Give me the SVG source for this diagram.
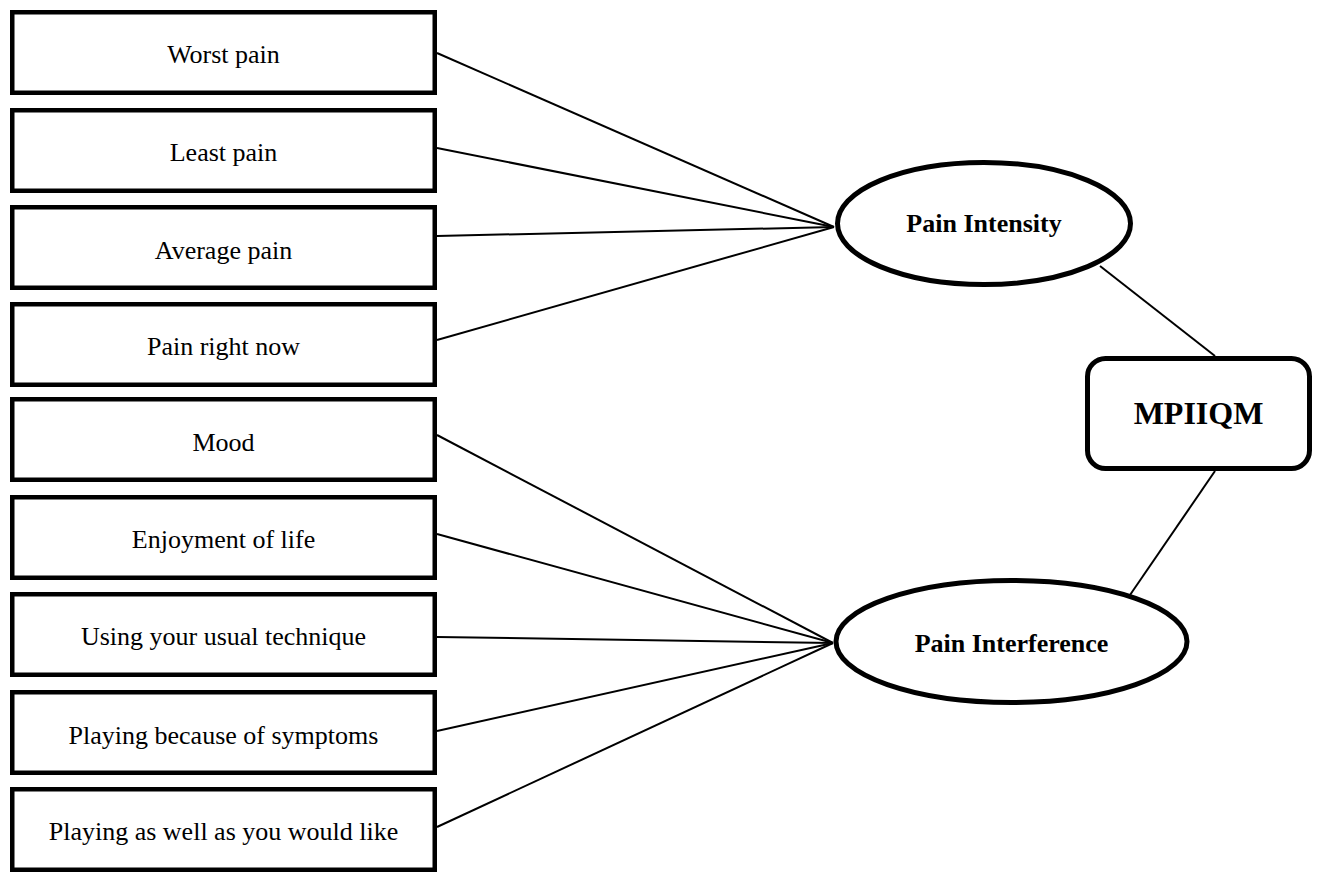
<svg xmlns="http://www.w3.org/2000/svg" width="1319" height="875" viewBox="0 0 1319 875">
<style>
.box{fill:#fff;stroke:#000;stroke-width:4.5}
.ell{fill:#fff;stroke:#000;stroke-width:5}
.t{font-family:"Liberation Serif","Times New Roman",serif;font-size:26px;text-anchor:middle;fill:#000}
.b{font-weight:bold}
.c line{stroke:#000;stroke-width:2}
</style>
<rect width="1319" height="875" fill="#fff"/>
<g class="c" id="connectors">
<line x1="437" y1="53" x2="834" y2="227"/>
<line x1="437" y1="148" x2="834" y2="227"/>
<line x1="437" y1="236" x2="834" y2="227"/>
<line x1="437" y1="340" x2="834" y2="227"/>
<line x1="437" y1="435" x2="833" y2="643"/>
<line x1="437" y1="534" x2="833" y2="643"/>
<line x1="437" y1="637" x2="833" y2="643"/>
<line x1="437" y1="731" x2="833" y2="643"/>
<line x1="437" y1="827" x2="833" y2="643"/>
<line x1="1100" y1="266" x2="1215" y2="356"/>
<line x1="1215" y1="471" x2="1130" y2="595"/>
</g>
<g id="n1"><rect class="box" x="12.25" y="12.25" width="422.5" height="80.5"/><text class="t" x="223.5" y="63">Worst pain</text></g>
<g id="n2"><rect class="box" x="12.25" y="110.25" width="422.5" height="80.5"/><text class="t" x="223.5" y="161">Least pain</text></g>
<g id="n3"><rect class="box" x="12.25" y="207.25" width="422.5" height="80.5"/><text class="t" x="223.5" y="259">Average pain</text></g>
<g id="n4"><rect class="box" x="12.25" y="304.25" width="422.5" height="80.5"/><text class="t" x="223.5" y="355">Pain right now</text></g>
<g id="n5"><rect class="box" x="12.25" y="399.25" width="422.5" height="80.5"/><text class="t" x="223.5" y="451">Mood</text></g>
<g id="n6"><rect class="box" x="12.25" y="497.25" width="422.5" height="80.5"/><text class="t" x="223.5" y="548">Enjoyment of life</text></g>
<g id="n7"><rect class="box" x="12.25" y="594.25" width="422.5" height="80.5"/><text class="t" x="223.5" y="645">Using your usual technique</text></g>
<g id="n8"><rect class="box" x="12.25" y="692.25" width="422.5" height="80.5"/><text class="t" x="223.5" y="744">Playing because of symptoms</text></g>
<g id="n9"><rect class="box" x="12.25" y="789.25" width="422.5" height="80.5"/><text class="t" x="223.5" y="840">Playing as well as you would like</text></g>
<g id="pi"><ellipse class="ell" cx="984" cy="223.5" rx="146.5" ry="61"/><text class="t b" x="984" y="232">Pain Intensity</text></g>
<g id="pif"><ellipse class="ell" cx="1011.5" cy="641.5" rx="175.5" ry="61"/><text class="t b" x="1011.5" y="652">Pain Interference</text></g>
<g id="mp"><rect class="ell" x="1087.5" y="358.5" width="222" height="110" rx="18"/><text class="t b" x="1198.5" y="424" style="font-size:32px">MPIIQM</text></g>
</svg>
